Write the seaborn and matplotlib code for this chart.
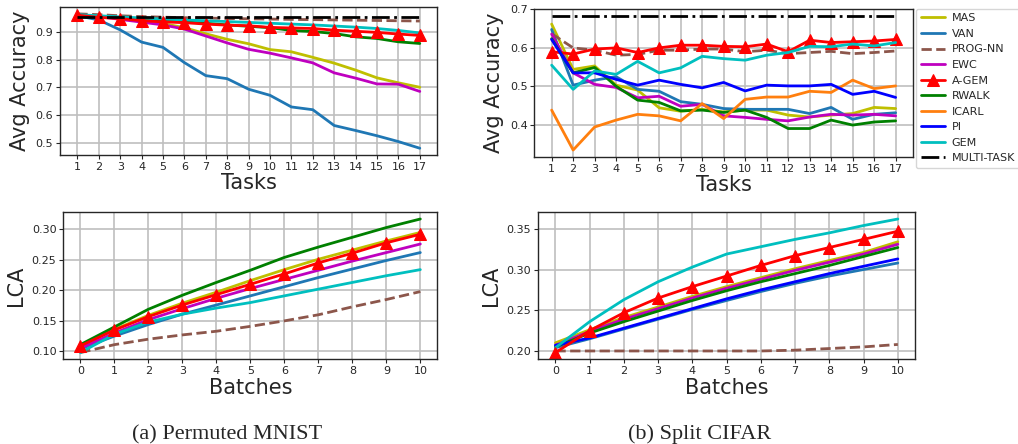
import numpy as np
import pandas as pd
import seaborn as sns
import matplotlib
matplotlib.use("Agg")
import matplotlib.pyplot as plt

# x axes
tasks = list(range(1, 18))
batches = list(range(0, 11))

# ---- Permuted MNIST, avg accuracy per task ----
mnist_acc_mas = [0.960, 0.955, 0.950, 0.940, 0.930, 0.915, 0.893, 0.873, 0.857, 0.836, 0.828, 0.808, 0.787, 0.762, 0.734, 0.716, 0.700]
mnist_acc_van = [0.958, 0.943, 0.907, 0.863, 0.844, 0.789, 0.742, 0.731, 0.693, 0.671, 0.629, 0.619, 0.562, 0.544, 0.525, 0.504, 0.480]
mnist_acc_prog = [0.965, 0.962, 0.958, 0.955, 0.953, 0.951, 0.950, 0.948, 0.947, 0.946, 0.945, 0.944, 0.943, 0.942, 0.941, 0.940, 0.939]
mnist_acc_ewc = [0.960, 0.955, 0.945, 0.935, 0.925, 0.910, 0.885, 0.860, 0.837, 0.823, 0.806, 0.788, 0.752, 0.733, 0.712, 0.711, 0.685]
mnist_acc_agem = [0.960, 0.952, 0.948, 0.940, 0.936, 0.933, 0.928, 0.924, 0.922, 0.916, 0.914, 0.912, 0.906, 0.902, 0.898, 0.892, 0.887]
mnist_acc_rwalk = [0.960, 0.955, 0.950, 0.945, 0.940, 0.936, 0.931, 0.925, 0.920, 0.915, 0.905, 0.901, 0.894, 0.882, 0.876, 0.864, 0.858]
mnist_acc_gem = [0.962, 0.958, 0.954, 0.950, 0.946, 0.943, 0.940, 0.937, 0.934, 0.931, 0.928, 0.925, 0.921, 0.917, 0.912, 0.905, 0.896]
mnist_acc_multi = [0.954] * 17

# ---- Split CIFAR, avg accuracy per task ----
cifar_acc_mas = [0.662, 0.544, 0.553, 0.503, 0.490, 0.444, 0.435, 0.440, 0.433, 0.438, 0.438, 0.425, 0.420, 0.425, 0.429, 0.445, 0.442]
cifar_acc_van = [0.648, 0.503, 0.516, 0.525, 0.492, 0.487, 0.460, 0.453, 0.442, 0.440, 0.440, 0.440, 0.429, 0.445, 0.414, 0.427, 0.431]
cifar_acc_prog = [0.637, 0.600, 0.594, 0.581, 0.583, 0.594, 0.594, 0.597, 0.597, 0.590, 0.594, 0.585, 0.588, 0.591, 0.585, 0.588, 0.592]
cifar_acc_ewc = [0.636, 0.535, 0.505, 0.497, 0.470, 0.474, 0.448, 0.453, 0.423, 0.419, 0.414, 0.410, 0.420, 0.427, 0.425, 0.427, 0.423]
cifar_acc_agem = [0.590, 0.584, 0.597, 0.600, 0.588, 0.600, 0.607, 0.607, 0.604, 0.603, 0.610, 0.590, 0.620, 0.614, 0.616, 0.618, 0.622]
cifar_acc_rwalk = [0.624, 0.535, 0.549, 0.500, 0.464, 0.458, 0.436, 0.438, 0.432, 0.438, 0.419, 0.390, 0.390, 0.412, 0.399, 0.407, 0.410]
cifar_acc_icarl = [0.438, 0.334, 0.394, 0.412, 0.427, 0.423, 0.410, 0.455, 0.416, 0.466, 0.472, 0.472, 0.487, 0.484, 0.516, 0.494, 0.501]
cifar_acc_pi = [0.622, 0.535, 0.535, 0.518, 0.503, 0.516, 0.505, 0.496, 0.510, 0.488, 0.503, 0.501, 0.501, 0.505, 0.479, 0.487, 0.471]
cifar_acc_gem = [0.555, 0.492, 0.540, 0.531, 0.565, 0.535, 0.548, 0.578, 0.572, 0.568, 0.581, 0.588, 0.604, 0.603, 0.610, 0.605, 0.614]
cifar_acc_multi = [0.683] * 17

# ---- Permuted MNIST, LCA per batch ----
mnist_lca_mas = [0.108, 0.136, 0.159, 0.179, 0.197, 0.216, 0.234, 0.251, 0.266, 0.281, 0.295]
mnist_lca_van = [0.104, 0.125, 0.144, 0.161, 0.176, 0.191, 0.206, 0.221, 0.235, 0.249, 0.262]
mnist_lca_prog = [0.098, 0.111, 0.120, 0.127, 0.133, 0.141, 0.150, 0.160, 0.173, 0.185, 0.198]
mnist_lca_ewc = [0.105, 0.130, 0.152, 0.170, 0.187, 0.203, 0.218, 0.233, 0.248, 0.262, 0.276]
mnist_lca_agem = [0.109, 0.135, 0.157, 0.176, 0.193, 0.210, 0.227, 0.245, 0.261, 0.278, 0.292]
mnist_lca_rwalk = [0.111, 0.140, 0.169, 0.192, 0.213, 0.233, 0.254, 0.271, 0.287, 0.303, 0.317]
mnist_lca_gem = [0.098, 0.128, 0.148, 0.161, 0.171, 0.180, 0.191, 0.202, 0.213, 0.224, 0.234]

# ---- Split CIFAR, LCA per batch ----
cifar_lca_mas = [0.210, 0.226, 0.241, 0.254, 0.267, 0.279, 0.290, 0.301, 0.311, 0.321, 0.334]
cifar_lca_van = [0.204, 0.215, 0.227, 0.239, 0.251, 0.262, 0.273, 0.283, 0.292, 0.300, 0.308]
cifar_lca_prog = [0.200, 0.200, 0.200, 0.200, 0.200, 0.200, 0.200, 0.201, 0.203, 0.205, 0.208]
cifar_lca_ewc = [0.207, 0.224, 0.239, 0.252, 0.265, 0.277, 0.288, 0.299, 0.309, 0.319, 0.331]
cifar_lca_agem = [0.198, 0.225, 0.247, 0.265, 0.279, 0.292, 0.305, 0.317, 0.327, 0.337, 0.347]
cifar_lca_rwalk = [0.205, 0.222, 0.236, 0.249, 0.262, 0.274, 0.285, 0.295, 0.305, 0.316, 0.327]
cifar_lca_pi = [0.207, 0.216, 0.228, 0.240, 0.252, 0.264, 0.275, 0.285, 0.295, 0.304, 0.313]
cifar_lca_gem = [0.204, 0.236, 0.263, 0.285, 0.303, 0.319, 0.328, 0.337, 0.345, 0.354, 0.362]

# line look for every method
styles = {
    'MAS': dict(color='y'),
    'VAN': dict(color='tab:blue'),
    'PROG-NN': dict(color='tab:brown', linestyle='--'),
    'EWC': dict(color='m'),
    'A-GEM': dict(color='r', marker='^', markersize=8, markeredgecolor='r'),
    'RWALK': dict(color='g'),
    'ICARL': dict(color='tab:orange'),
    'PI': dict(color='b'),
    'GEM': dict(color='c'),
    'MULTI-TASK': dict(color='k', linestyle='-.', dashes=(8, 4, 2, 4)),
}

sns.set_style("whitegrid", {"axes.edgecolor": "0.15", "grid.color": "0.75",
                            "xtick.bottom": True, "ytick.left": True})
plt.rcParams['font.family'] = ['DejaVu Sans']

fig = plt.figure(figsize=(10.18, 4.44), dpi=100)
ax_tl = fig.add_axes([0.0592, 0.651, 0.370, 0.333])
ax_tr = fig.add_axes([0.525, 0.647, 0.3717, 0.332])
ax_bl = fig.add_axes([0.0622, 0.1908, 0.3674, 0.331])
ax_br = fig.add_axes([0.5288, 0.1908, 0.370, 0.331])


def draw(ax, x, series, xlabel, ylabel, xticks):
    for name, vals in series.items():
        sns.lineplot(x=x, y=vals, ax=ax, label=name, linewidth=2, legend=False, **styles[name])
    ax.set_xticks(xticks)
    ax.set_xlabel(xlabel, fontsize=15, labelpad=1)
    ax.set_ylabel(ylabel, fontsize=15)
    ax.tick_params(labelsize=8, length=3, pad=2)
    ax.grid(True, linewidth=1.2)
    for s in ax.spines.values():
        s.set_linewidth(1)


draw(ax_tl, tasks, {'MAS': mnist_acc_mas, 'VAN': mnist_acc_van, 'PROG-NN': mnist_acc_prog,
                    'EWC': mnist_acc_ewc, 'RWALK': mnist_acc_rwalk, 'GEM': mnist_acc_gem,
                    'A-GEM': mnist_acc_agem, 'MULTI-TASK': mnist_acc_multi},
     'Tasks', 'Avg Accuracy', tasks)
ax_tl.set_yticks([0.5, 0.6, 0.7, 0.8, 0.9])

draw(ax_tr, tasks, {'MAS': cifar_acc_mas, 'VAN': cifar_acc_van, 'PROG-NN': cifar_acc_prog,
                    'EWC': cifar_acc_ewc, 'A-GEM': cifar_acc_agem, 'RWALK': cifar_acc_rwalk,
                    'ICARL': cifar_acc_icarl, 'PI': cifar_acc_pi, 'GEM': cifar_acc_gem,
                    'MULTI-TASK': cifar_acc_multi},
     'Tasks', 'Avg Accuracy', tasks)
ax_tr.set_yticks([0.4, 0.5, 0.6, 0.7])

draw(ax_bl, batches, {'MAS': mnist_lca_mas, 'VAN': mnist_lca_van, 'PROG-NN': mnist_lca_prog,
                      'EWC': mnist_lca_ewc, 'RWALK': mnist_lca_rwalk, 'GEM': mnist_lca_gem,
                      'A-GEM': mnist_lca_agem},
     'Batches', 'LCA', batches)
ax_bl.yaxis.set_major_formatter(matplotlib.ticker.FormatStrFormatter('%.2f'))

draw(ax_br, batches, {'MAS': cifar_lca_mas, 'VAN': cifar_lca_van, 'PROG-NN': cifar_lca_prog,
                      'EWC': cifar_lca_ewc, 'RWALK': cifar_lca_rwalk, 'PI': cifar_lca_pi,
                      'GEM': cifar_lca_gem, 'A-GEM': cifar_lca_agem},
     'Batches', 'LCA', batches)
ax_br.yaxis.set_major_formatter(matplotlib.ticker.FormatStrFormatter('%.2f'))

# legend next to the top right panel
handles, labels = ax_tr.get_legend_handles_labels()
fig.legend(handles, labels, loc='upper left', bbox_to_anchor=(0.9, 0.98),
           fontsize=8, frameon=True, handlelength=2.2, handletextpad=0.6,
           labelspacing=0.5, borderaxespad=0, borderpad=0.4, fancybox=True)

# captions under each column
fig.text(0.223, 0.011, '(a) Permuted MNIST', family='Liberation Serif', fontsize=16,
         ha='center', va='baseline')
fig.text(0.687, 0.011, '(b) Split CIFAR', family='Liberation Serif', fontsize=16,
         ha='center', va='baseline')

fig.savefig('out.png', dpi=100)
